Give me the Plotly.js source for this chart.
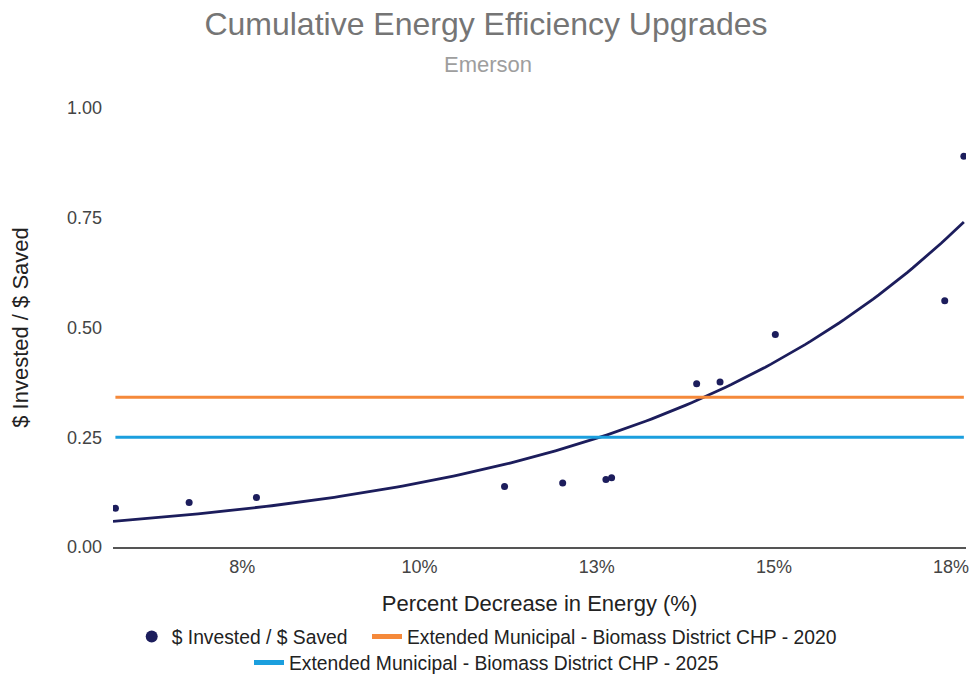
<!DOCTYPE html>
<html>
<head>
<meta charset="utf-8">
<script src="https://cdn.plot.ly/plotly-3.0.1.min.js"></script>
<style>html,body{margin:0;padding:0;background:#fff;}#chart{width:972px;height:677px;}</style>
</head>
<body>
<div id="chart"></div>
<script>
// ---- Data ----
const pctDecrease = [5.71, 6.75, 7.70, 11.20, 12.02, 12.63, 12.71, 13.91, 14.24, 15.02, 17.41, 17.68];
const investedPerSaved = [0.0885, 0.1015, 0.113, 0.138, 0.146, 0.154, 0.158, 0.372, 0.376, 0.484, 0.561, 0.890];
const ref2020Value = 0.341;
const ref2025Value = 0.25;
const xTickVals = [7.5, 10, 12.5, 15, 17.5];
const xTickText = ['8%', '10%', '13%', '15%', '18%'];
const yTickVals = [0, 0.25, 0.5, 0.75, 1];
const yTickText = ['0.00', '0.25', '0.50', '0.75', '1.00'];
const seriesNames = ['$ Invested / $ Saved', 'Extended Municipal - Biomass District CHP - 2020', 'Extended Municipal - Biomass District CHP - 2025'];
const titleText = 'Cumulative Energy Efficiency Upgrades';
const subtitleText = 'Emerson';
const xTitle = 'Percent Decrease in Energy (%)';
const yTitle = '$ Invested / $ Saved';

const xRange = [5.676, 17.71];
const yRange = [0, 1];

// ---- Exponential trendline y = a*e^(b*x): log-linear least squares weighted by y ----
function fitExp(xs, ys) {
  let sw = 0, swx = 0, swl = 0;
  for (let i = 0; i < xs.length; i++) {
    const w = ys[i], l = Math.log(ys[i]);
    sw += w; swx += w * xs[i]; swl += w * l;
  }
  const mx = swx / sw, ml = swl / sw;
  let sxy = 0, sxx = 0;
  for (let i = 0; i < xs.length; i++) {
    const w = ys[i], dx = xs[i] - mx;
    sxy += w * dx * (Math.log(ys[i]) - ml);
    sxx += w * dx * dx;
  }
  const b = sxy / sxx;
  return {a: Math.exp(ml - b * mx), b: b};
}
const fit = fitExp(pctDecrease, investedPerSaved);
const trendX = [], trendY = [];
const tStart = xRange[0], tEnd = Math.max(...pctDecrease);
for (let i = 0; i <= 150; i++) {
  const x = tStart + (tEnd - tStart) * i / 150;
  trendX.push(x);
  trendY.push(fit.a * Math.exp(fit.b * x));
}

const xMin = Math.min(...pctDecrease), xMax = Math.max(...pctDecrease);
const NAVY = '#1c1d5c', ORANGE = '#f5893a', BLUE = '#1b9fde';
const FONT = 'Arial, "Liberation Sans", sans-serif';

const traces = [
  {x: trendX, y: trendY, mode: 'lines', line: {color: NAVY, width: 2.8}, showlegend: false, hoverinfo: 'skip'},
  {x: [xMin, xMax], y: [ref2020Value, ref2020Value], mode: 'lines', name: seriesNames[1], line: {color: ORANGE, width: 3}, legend: 'legend2'},
  {x: [xMin, xMax], y: [ref2025Value, ref2025Value], mode: 'lines', name: seriesNames[2], line: {color: BLUE, width: 3}, legend: 'legend3'},
  {x: pctDecrease, y: investedPerSaved, mode: 'markers', name: seriesNames[0], marker: {color: NAVY, size: 7}, legend: 'legend'}
];

const legendFont = {size: 19.3, color: '#222222', family: FONT};
function legendAt(textStartPx, centerYPx) {
  return {
    orientation: 'h', xref: 'container', x: (textStartPx - 40) / 972, xanchor: 'left',
    yref: 'container', y: 1 - centerYPx / 677, yanchor: 'middle',
    font: legendFont, itemsizing: 'constant', bgcolor: 'rgba(0,0,0,0)'
  };
}
const layout = {
  width: 972, height: 677,
  paper_bgcolor: '#ffffff', plot_bgcolor: '#ffffff',
  font: {family: FONT, color: '#222222'},
  margin: {l: 113, r: 6, t: 108, b: 130, autoexpand: false},
  title: {text: titleText, font: {size: 32, color: '#757575', family: FONT}, x: 0.5, xref: 'container', xanchor: 'center', y: 1 - 24/677, yref: 'container', yanchor: 'middle'},
  annotations: [
    {text: subtitleText, xref: 'paper', yref: 'paper', x: (487.5 - 113) / 853, y: (547 - 64) / 439, xanchor: 'center', yanchor: 'middle', showarrow: false, font: {size: 22, color: '#9e9e9e', family: FONT}}
  ],
  xaxis: {
    range: xRange, tickmode: 'array', tickvals: xTickVals, ticktext: xTickText,
    showgrid: false, zeroline: false, showline: true, linecolor: '#555555', linewidth: 2,
    ticks: '', tickfont: {size: 18, color: '#444444'}, ticklabelstandoff: 2,
    title: {text: xTitle, font: {size: 22, color: '#222222'}, standoff: 20}, fixedrange: true
  },
  yaxis: {
    range: yRange, tickmode: 'array', tickvals: yTickVals, ticktext: yTickText,
    showgrid: false, zeroline: false, showline: false,
    ticks: '', tickfont: {size: 18, color: '#444444'}, ticklabelstandoff: 10,
    title: {text: yTitle, font: {size: 22, color: '#222222'}, standoff: 32}, fixedrange: true
  },
  legend: legendAt(171.7, 637),
  legend2: legendAt(407, 637),
  legend3: legendAt(289, 663),
  showlegend: true
};

Plotly.newPlot('chart', traces, layout, {displayModeBar: false, staticPlot: true});
</script>
</body>
</html>
